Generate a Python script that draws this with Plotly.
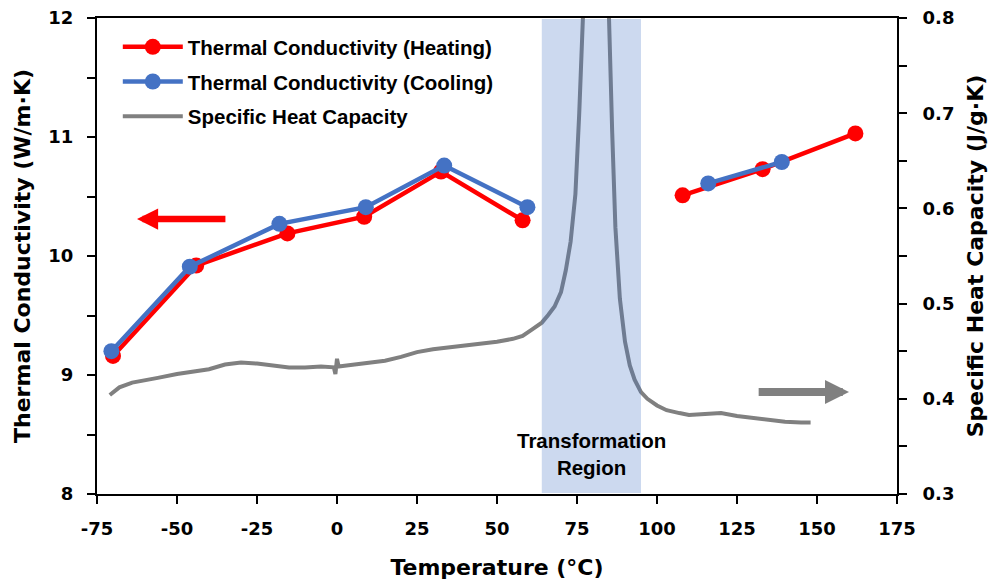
import plotly.graph_objects as go

# Thermal conductivity during heating (two runs either side of the transformation)
heat_lo_t = [-70, -44, -15.5, 8.5, 32.5, 58]
heat_lo_k = [9.16, 9.92, 10.19, 10.33, 10.71, 10.30]
heat_hi_t = [108, 133, 162]
heat_hi_k = [10.51, 10.73, 11.03]

# Thermal conductivity during cooling
cool_lo_t = [-70.5, -46, -18, 9, 33.5, 59.5]
cool_lo_k = [9.20, 9.91, 10.27, 10.41, 10.76, 10.41]
cool_hi_t = [116, 139]
cool_hi_k = [10.61, 10.79]

# Specific heat capacity trace (DSC)
cp_t = [-71, -68, -64, -60, -56, -50, -45, -40, -35, -30, -25, -20, -15, -10, -5,
        -1, -0.5, 0, 0.5, 3, 9, 15, 20, 25, 30, 35, 40, 45, 50, 55, 58, 61, 64, 66,
        68, 70, 71.5, 73, 74.5, 75.7, 76.5, 78, 80, 82, 84, 85, 86, 87, 88.4, 90,
        91.5, 93, 95, 97, 100, 103, 107, 110, 115, 120, 125, 130, 135, 140, 145, 148]
cp_val = [0.404, 0.412, 0.417, 0.420, 0.422, 0.426, 0.428, 0.431, 0.436, 0.438,
          0.437, 0.435, 0.433, 0.433, 0.434, 0.433, 0.426, 0.442, 0.434, 0.435,
          0.437, 0.440, 0.444, 0.449, 0.452, 0.454, 0.455, 0.458, 0.460, 0.463,
          0.466, 0.473, 0.480, 0.488, 0.497, 0.512, 0.535, 0.565, 0.615, 0.70,
          0.80, 1.0, 1.2, 1.25, 1.0, 0.80, 0.68, 0.58, 0.505, 0.46, 0.435, 0.420,
          0.407, 0.400, 0.393, 0.388, 0.385, 0.383, 0.384, 0.385, 0.382, 0.380,
          0.377, 0.376, 0.375, 0.375]

# Transformation temperature window
region = [64, 95]

x_ticks = [-75, -50, -25, 0, 25, 50, 75, 100, 125, 150, 175]
x_tick_text = [str(v) for v in x_ticks]

RED = "#FF0000"
BLUE = "#4472C4"
GRAY = "#808080"
TICK_FONT = dict(family="DejaVu Sans", size=18, color="black", weight="bold")
TITLE_FONT = dict(family="DejaVu Sans", size=22, color="black", weight="bold")
LEG_FONT = dict(family="Liberation Sans, Arial", size=20.5, color="black", weight="bold")

fig = go.Figure()

fig.add_trace(go.Scatter(
    x=heat_lo_t + [None] + heat_hi_t, y=heat_lo_k + [None] + heat_hi_k,
    mode="lines+markers", name="Thermal Conductivity (Heating)",
    line=dict(color=RED, width=4.5), marker=dict(color=RED, size=16),
    legendgroup="heat"))
fig.add_trace(go.Scatter(
    x=cool_lo_t + [None] + cool_hi_t, y=cool_lo_k + [None] + cool_hi_k,
    mode="lines+markers", name="Thermal Conductivity (Cooling)",
    line=dict(color=BLUE, width=4.5), marker=dict(color=BLUE, size=16),
    legendgroup="cool"))
fig.add_trace(go.Scatter(
    x=cp_t, y=cp_val, mode="lines", name="Specific Heat Capacity",
    line=dict(color=GRAY, width=4), yaxis="y2", legendgroup="cp"))

# shaded transformation band
fig.add_shape(type="rect", xref="x", yref="paper", x0=region[0], x1=region[1],
              y0=0.002, y1=0.998, fillcolor="rgba(68,114,196,0.27)",
              line=dict(width=0), layer="above")

fig.add_annotation(x=79.6, y=8.34, xref="x", yref="y",
                   text="Transformation<br>Region", showarrow=False,
                   font=LEG_FONT, align="center")

# axis pointers
fig.add_annotation(x=-62.5, y=10.31, ax=-34.4, ay=10.31, xref="x", yref="y",
                   axref="x", ayref="y", text="", showarrow=True,
                   arrowhead=2, arrowsize=0.65, arrowwidth=6.5, arrowcolor=RED)
fig.add_annotation(x=160, y=8.857, ax=131.3, ay=8.857, xref="x", yref="y",
                   axref="x", ayref="y", text="", showarrow=True,
                   arrowhead=2, arrowsize=0.6, arrowwidth=8, arrowcolor=GRAY)

fig.update_layout(
    width=994, height=587,
    margin=dict(l=97, r=97, t=18, b=93),
    paper_bgcolor="white", plot_bgcolor="white",
    legend=dict(x=0.026, y=0.981, xanchor="left", yanchor="top",
                font=LEG_FONT, bgcolor="rgba(0,0,0,0)", borderwidth=0,
                itemwidth=60, tracegroupgap=5, traceorder="grouped"),
    xaxis=dict(range=[-75, 175], tickvals=x_ticks, ticktext=x_tick_text,
               ticks="outside", ticklen=8, automargin=False,
               tickwidth=2, tickcolor="black", showline=True, linecolor="black",
               linewidth=2, mirror=True, showgrid=False, zeroline=False,
               tickfont=TICK_FONT, ticklabelstandoff=9,
               title=dict(text="Temperature (°C)", font=TITLE_FONT, standoff=22)),
    yaxis=dict(range=[8, 12], dtick=1, ticks="outside", ticklen=8, tickwidth=2,
               tickcolor="black", showline=True, linecolor="black", linewidth=2,
               showgrid=False, zeroline=False, tickfont=TICK_FONT,
               ticklabelstandoff=10, automargin=False,
               minor=dict(dtick=0.5, ticks="outside", ticklen=8, tickwidth=2,
                          tickcolor="black", showgrid=False),
               title=dict(text="Thermal Conductivity (W/m·K)", font=TITLE_FONT,
                          standoff=12)),
    yaxis2=dict(range=[0.3, 0.8], dtick=0.1, tickformat=".1f", overlaying="y",
                side="right", ticks="outside", ticklen=8, tickwidth=2,
                tickcolor="black", showline=True, linecolor="black", linewidth=2,
                showgrid=False, zeroline=False, tickfont=TICK_FONT,
                ticklabelstandoff=12, automargin=False,
                minor=dict(dtick=0.05, ticks="outside", ticklen=8, tickwidth=2,
                           tickcolor="black", showgrid=False),
                title=dict(text="Specific Heat Capacity (J/g·K)", font=TITLE_FONT,
                           standoff=14)),
)

fig.write_html("out.html")
